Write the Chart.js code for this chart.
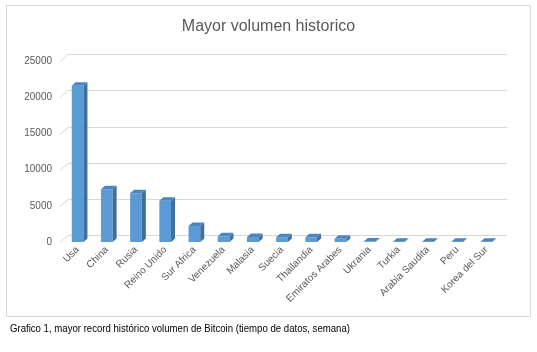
<!DOCTYPE html>
<html>
<head>
<meta charset="utf-8">
<script src="https://cdn.jsdelivr.net/npm/chart.js@4/dist/chart.umd.min.js"></script>
<style>
  html, body { margin: 0; padding: 0; background: #fff; }
  #wrap { position: relative; width: 537px; height: 352px; }
  #c { position: absolute; left: 0; top: 0; }
  #frame { position: absolute; left: 6px; top: 5px; width: 523px; height: 310px; border: 1px solid #d9d9d9; pointer-events: none; }
  #caption { position: absolute; left: 10px; top: 322px; font-family: "Liberation Sans", sans-serif; font-size: 11.5px; color: #000; white-space: nowrap; transform: scaleX(0.835); transform-origin: 0 0; }
</style>
</head>
<body>
<div id="wrap">
  <canvas id="c" width="537" height="352"></canvas>
  <div id="frame"></div>
  <div id="caption">Grafico 1, mayor record histórico volumen de Bitcoin (tiempo de datos, semana)</div>
</div>
<script>
const paises = ['Usa', 'China', 'Rusia', 'Reino Unido', 'Sur Africa', 'Venezuela', 'Malasia', 'Suecia',
  'Thailandia', 'Emiratos Arabes', 'Ukrania', 'Turkia', 'Arabia Saudita', 'Peru', 'Korea del Sur'];
const volumen = [21600, 7300, 6750, 5700, 2200, 780, 680, 650, 650, 450, 60, 50, 40, 30, 25];
const yTicks = [0, 5000, 10000, 15000, 20000, 25000];

const DX = 4, DY = 3.5;      // bar depth
const WX = 8, WY = 7;        // back wall offset

const fake3d = {
  id: 'fake3d',
  beforeDatasetsDraw(chart) {
    const { ctx, chartArea, scales } = chart;
    ctx.save();
    ctx.strokeStyle = '#d9d9d9';
    ctx.lineWidth = 1;
    yTicks.forEach(v => {
      const y = Math.round(scales.y.getPixelForValue(v)) + 0.5;
      ctx.beginPath();
      ctx.moveTo(chartArea.left - 3, y);
      ctx.lineTo(chartArea.left - 3 + WX, y - WY);
      ctx.lineTo(chartArea.right + 6, y - WY);
      ctx.stroke();
    });
    ctx.restore();
  },
  afterDatasetsDraw(chart) {
    const { ctx } = chart;
    const meta = chart.getDatasetMeta(0);
    ctx.save();
    meta.data.forEach(bar => {
      const { x, y, base, width } = bar.getProps(['x', 'y', 'base', 'width'], true);
      const l = x - width / 2, r = x + width / 2;
      // side face
      ctx.fillStyle = '#3f6f9c';
      ctx.beginPath();
      ctx.moveTo(r, base);
      ctx.lineTo(r + DX, base - DY);
      ctx.lineTo(r + DX, y - DY);
      ctx.lineTo(r, y);
      ctx.closePath();
      ctx.fill();
      // top face
      ctx.fillStyle = '#4a86c0';
      ctx.beginPath();
      ctx.moveTo(l, y);
      ctx.lineTo(l + DX, y - DY);
      ctx.lineTo(r + DX, y - DY);
      ctx.lineTo(r, y);
      ctx.closePath();
      ctx.fill();
    });
    ctx.restore();
  }
};

new Chart(document.getElementById('c'), {
  type: 'bar',
  data: {
    labels: paises,
    datasets: [{
      label: 'Volumen',
      data: volumen,
      backgroundColor: '#5b9bd5',
      borderWidth: 0,
      categoryPercentage: 1,
      barPercentage: 0.4
    }]
  },
  options: {
    responsive: false,
    animation: false,
    layout: { padding: { left: 0, right: 0, top: 0, bottom: 30 } },
    plugins: {
      legend: { display: false },
      tooltip: { enabled: false },
      title: {
        display: true,
        text: 'Mayor volumen historico',
        color: '#595959',
        font: { family: 'Liberation Sans', size: 16, weight: 'normal' },
        padding: { top: 17, bottom: 25 }
      }
    },
    scales: {
      x: {
        grid: { display: false, drawTicks: false },
        border: { display: false },
        ticks: {
          color: '#595959',
          font: { family: 'Liberation Sans', size: 10 },
          minRotation: 45,
          maxRotation: 45,
          padding: 2,
          autoSkip: false
        },
        afterFit(scale) { scale.height = 80; }
      },
      y: {
        min: 0,
        max: 25000,
        grid: { display: false, drawTicks: false },
        border: { display: false },
        ticks: {
          stepSize: 5000,
          color: '#595959',
          font: { family: 'Liberation Sans', size: 10 },
          padding: 11,
          callback: v => String(v)
        },
        afterFit(scale) { scale.width = 63; }
      },
      spacer: {
        position: 'right',
        grid: { display: false, drawTicks: false },
        border: { display: false },
        ticks: { display: false },
        afterFit(scale) { scale.width = 36; }
      }
    }
  },
  plugins: [fake3d]
});
</script>
</body>
</html>
